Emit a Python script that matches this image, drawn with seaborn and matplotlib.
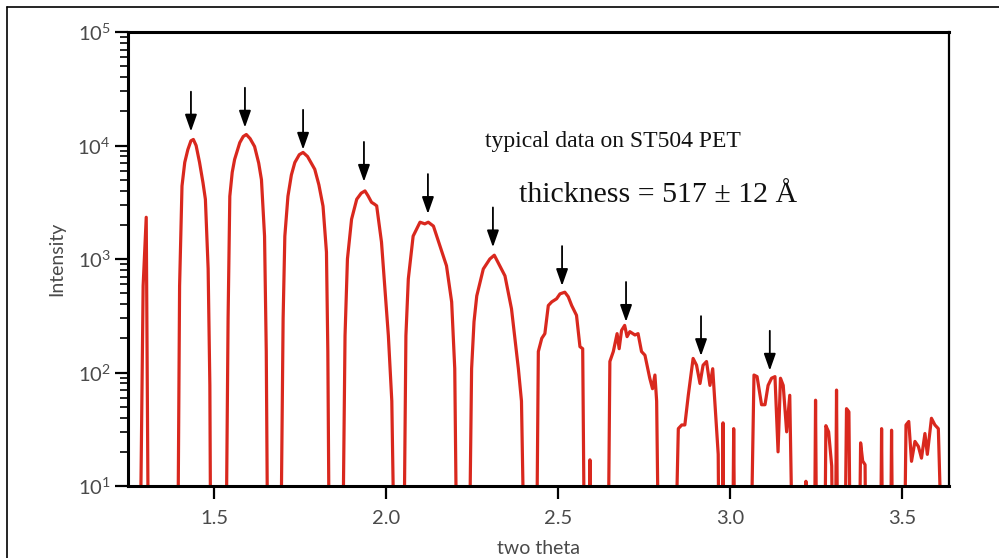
import matplotlib
matplotlib.use("Agg")
import matplotlib.pyplot as plt
from matplotlib.lines import Line2D
from matplotlib.ticker import FixedLocator, NullLocator
import numpy as np
import pandas as pd
import seaborn as sns

# ---------------- data ----------------
two_theta = [
    1.265,
    1.284, 1.294, 1.303, 1.310,
    1.394, 1.400, 1.407, 1.415, 1.424, 1.433, 1.440, 1.448, 1.458, 1.468, 1.475, 1.483, 1.488, 1.491,
    1.534, 1.541, 1.546, 1.553, 1.560, 1.575, 1.585, 1.594, 1.605, 1.618, 1.630, 1.638, 1.647, 1.652, 1.657,
    1.693, 1.701, 1.706, 1.715, 1.725, 1.735, 1.748, 1.759, 1.772, 1.793, 1.805, 1.817, 1.827, 1.831, 1.836,
    1.873, 1.881, 1.888, 1.900, 1.915, 1.928, 1.939, 1.948, 1.958, 1.966, 1.973, 1.987, 2.007, 2.017, 2.026,
    2.051, 2.058, 2.065, 2.079, 2.099, 2.113, 2.123, 2.138, 2.157, 2.176, 2.191, 2.200, 2.207,
    2.241, 2.249, 2.256, 2.264, 2.283, 2.302, 2.315, 2.331, 2.346, 2.365, 2.385, 2.394, 2.404,
    2.437, 2.443, 2.453, 2.462, 2.472, 2.482, 2.496, 2.506, 2.520, 2.530, 2.540, 2.554, 2.564, 2.572, 2.578,
    2.590, 2.593, 2.597,
    2.645, 2.651, 2.661, 2.672, 2.678, 2.685, 2.694, 2.701, 2.709, 2.724, 2.733, 2.743, 2.753, 2.767, 2.775,
    2.782, 2.787, 2.794,
    2.839, 2.850, 2.860, 2.869, 2.879, 2.893, 2.903, 2.913, 2.922, 2.932, 2.942, 2.950, 2.956, 2.966, 2.969,
    2.977, 2.980, 2.983, 3.007, 3.011, 3.015,
    3.059, 3.070, 3.079, 3.092, 3.102, 3.111, 3.121, 3.131, 3.140, 3.147, 3.155, 3.165, 3.174, 3.184,
    3.218, 3.221, 3.224, 3.245, 3.249, 3.253, 3.275, 3.279, 3.287, 3.296, 3.300, 3.306, 3.310, 3.314,
    3.333, 3.339, 3.346, 3.351, 3.375, 3.380, 3.386, 3.393, 3.396, 3.437, 3.441, 3.445, 3.466, 3.470, 3.474,
    3.506, 3.512, 3.520, 3.528, 3.538, 3.548, 3.557, 3.567, 3.574, 3.586, 3.596, 3.606, 3.620, 3.640,
]
intensity = [
    1,
    1, 580, 2330, 1,
    1, 580, 4400, 7100, 9200, 11000, 11300, 10000, 7100, 4700, 3360, 820, 77, 1,
    1, 300, 3570, 5800, 7540, 10600, 12000, 12500, 11500, 9800, 7000, 5000, 1590, 153, 1,
    1, 300, 1590, 3570, 5500, 7080, 8300, 8690, 8000, 6170, 4500, 2920, 1150, 153, 1,
    1, 211, 1000, 2240, 3360, 3800, 3980, 3600, 3160, 3050, 2940, 1410, 211, 56, 1,
    1, 211, 668, 1590, 2110, 2040, 2110, 1950, 1300, 871, 419, 108, 1,
    1, 108, 280, 473, 817, 1000, 1080, 871, 710, 364, 108, 56, 1,
    1, 153, 200, 220, 389, 419, 446, 493, 510, 465, 389, 319, 169, 162, 1,
    1, 17, 1,
    1, 125, 153, 220, 162, 235, 260, 207, 229, 214, 220, 153, 142, 89, 72,
    95, 56, 1,
    1, 32, 34.5, 34.5, 63, 133, 116, 80, 116, 125, 77, 108, 56, 19, 1,
    1, 36, 1, 1, 32, 1,
    1, 95, 92, 52, 52, 77, 89, 92, 20, 89, 77, 30, 63, 1,
    1, 11, 1, 1, 57, 1, 1, 34, 30, 15, 1, 1, 70, 1,
    1, 48, 45, 1, 1, 24, 16.6, 15.4, 1, 1, 32, 1, 1, 31, 1,
    1, 34.5, 37, 16.5, 24.7, 22.3, 17.6, 29, 19, 39.5, 34.5, 32, 1, 1,
]

arrow_theta = [1.433, 1.590, 1.759, 1.936, 2.122, 2.311, 2.512, 2.698, 2.916, 3.116]
arrow_tip = [13300, 14400, 9200, 4800, 2500, 1270, 580, 280, 140, 104]

ytick_values = [10, 100, 1000, 10000, 100000]
ytick_labels = [r"$\mathregular{10^{1}}$", r"$\mathregular{10^{2}}$", r"$\mathregular{10^{3}}$",
                r"$\mathregular{10^{4}}$", r"$\mathregular{10^{5}}$"]
xtick_values = [1.5, 2.0, 2.5, 3.0, 3.5]
xtick_labels = ["1.5", "2.0", "2.5", "3.0", "3.5"]

note_sample = "typical data on ST504 PET"
note_thickness = "thickness = 517 \u00b1 12 \u00c5"

# ---------------- figure ----------------
sns.set_theme(style="ticks")
plt.rcParams["font.family"] = ["Lato", "DejaVu Sans"]

W, H = 999, 558
fig = plt.figure(figsize=(W / 100, H / 100), dpi=100)
fig.patch.set_facecolor("white")
ax = fig.add_axes([128 / W, (H - 486) / H, (949 - 128) / W, (486 - 32) / H])

df = pd.DataFrame({"two theta": two_theta, "Intensity": intensity})
sns.lineplot(data=df, x="two theta", y="Intensity", ax=ax, color="#d9281e",
             lw=2.3, estimator=None, sort=False, legend=False)

ax.set_yscale("log")
ax.set_ylim(10, 1e5)
ax.set_xlim(1.25, 3.637)

ax.yaxis.set_major_locator(FixedLocator(ytick_values))
ax.set_yticklabels(ytick_labels)
ax.xaxis.set_major_locator(FixedLocator(xtick_values))
ax.set_xticklabels(xtick_labels)
ax.xaxis.set_minor_locator(NullLocator())

tick_color = "#4a4a4a"
ax.tick_params(axis="y", which="major", direction="out", length=9.5, width=1.6,
               color="black", labelsize=14.5, labelcolor=tick_color, pad=3)
ax.tick_params(axis="y", which="minor", direction="out", length=5.5, width=1.2, color="black")
ax.tick_params(axis="x", which="major", direction="out", length=9.5, width=1.6,
               color="black", labelsize=14.5, labelcolor=tick_color, pad=8)

for name, sp in ax.spines.items():
    sp.set_visible(True)
    sp.set_color("black")
    sp.set_linewidth(2.2 if name in ("left", "bottom", "top") else 1.6)

ax.set_xlabel("two theta", fontsize=14, color=tick_color, labelpad=9)
ax.set_ylabel("Intensity", fontsize=14, color=tick_color, labelpad=9)
ax.grid(False)

# arrows marking fringe maxima
for x, tip in zip(arrow_theta, arrow_tip):
    ax.annotate("", xy=(x, tip), xytext=(x, tip * 2.24),
                arrowprops=dict(arrowstyle="-|>,head_length=0.85,head_width=0.3",
                                color="black", lw=1.3, shrinkA=0, shrinkB=0))

fig.text(613 / W, 1 - 141 / H, note_sample, ha="center", va="center",
         family=["Liberation Serif", "DejaVu Serif"], fontsize=17, color="#111111")
fig.text(658 / W, 1 - 195 / H, note_thickness, ha="center", va="center",
         family=["Liberation Serif", "DejaVu Serif"], fontsize=21.5, color="#111111")

# outer frame (cropped at right/bottom)
fig.add_artist(Line2D([7 / W, 7 / W], [0, 1 - 7 / H], transform=fig.transFigure,
                      color="black", lw=1.2))
fig.add_artist(Line2D([7 / W, 1], [1 - 7 / H, 1 - 7 / H], transform=fig.transFigure,
                      color="black", lw=1.2))

fig.savefig("out.png", dpi=100)
